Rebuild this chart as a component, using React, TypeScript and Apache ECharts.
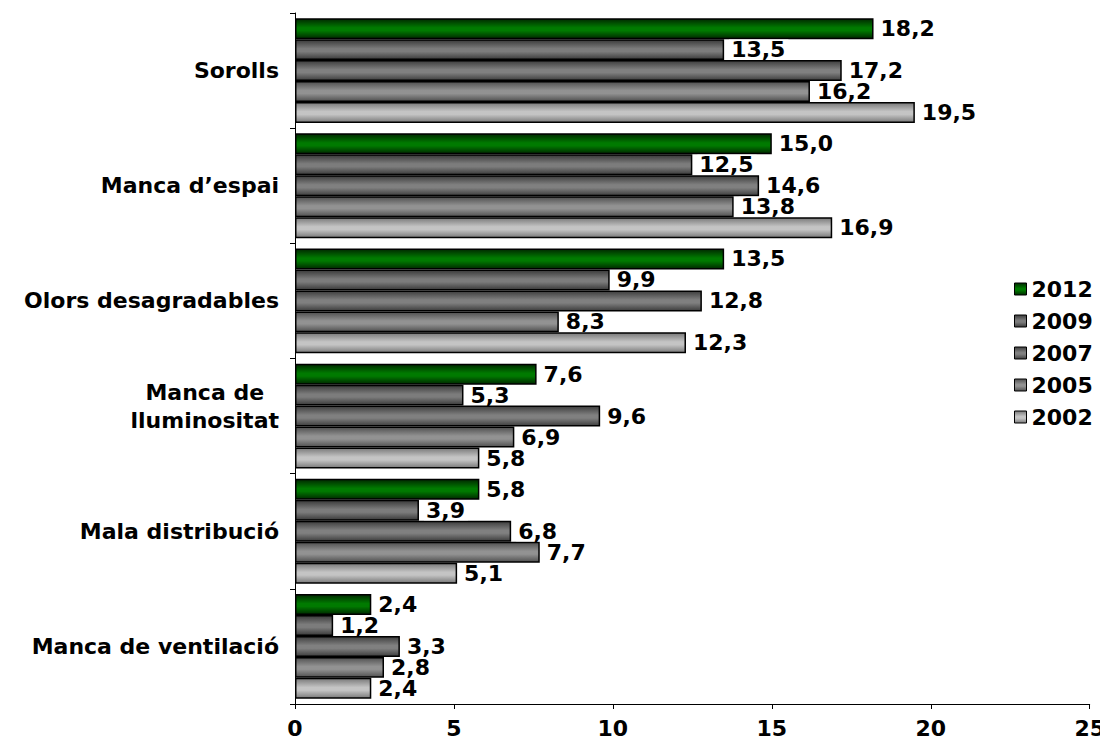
import React, { useEffect, useRef } from "react";
import * as echarts from "echarts";

const categories = [
  "Manca de ventilació",
  "Mala distribució",
  "Manca de\nlluminositat",
  "Olors desagradables",
  "Manca d’espai",
  "Sorolls",
];
const years = ["2012", "2009", "2007", "2005", "2002"];
const v2012 = [2.4, 5.8, 7.6, 13.5, 15.0, 18.2];
const v2009 = [1.2, 3.9, 5.3, 9.9, 12.5, 13.5];
const v2007 = [3.3, 6.8, 9.6, 12.8, 14.6, 17.2];
const v2005 = [2.8, 7.7, 6.9, 8.3, 13.8, 16.2];
const v2002 = [2.4, 5.1, 5.8, 12.3, 16.9, 19.5];
const xTicks = [0, 5, 10, 15, 20, 25];

const seriesValues = [v2012, v2009, v2007, v2005, v2002];
const centerColors = ["#007a00", "#7c7c7c", "#808080", "#929292", "#c4c4c4"];
const edgeColors = ["#002a00", "#3a3a3a", "#3e3e3e", "#505050", "#7a7a7a"];

const FONT = "DejaVu Sans";
const FS = 22;

export default function App() {
  const ref = useRef<HTMLDivElement>(null);
  useEffect(() => {
    if (!ref.current) return;
    const chart = echarts.init(ref.current, undefined, { renderer: "svg" });
    const grad = (i: number) =>
      new echarts.graphic.LinearGradient(0, 0, 0, 1, [
        { offset: 0, color: edgeColors[i] },
        { offset: 0.45, color: centerColors[i] },
        { offset: 0.6, color: centerColors[i] },
        { offset: 1, color: edgeColors[i] },
      ]);
    const series = years.map((y, i) => ({
      name: y,
      type: "bar",
      data: seriesValues[i],
      barGap: "0%",
      barCategoryGap: "9%",
      itemStyle: {
        color: grad(i),
        borderColor: "#000",
        borderWidth: 1.5,
      },
      label: {
        show: true,
        position: "right",
        distance: 5,
        color: "#000",
        fontFamily: FONT,
        fontWeight: "bold",
        fontSize: FS,
        lineHeight: 20,
        backgroundColor: "#fff",
        padding: [0, 3, 0, 2],
        formatter: (p: any) => Number(p.value).toFixed(1).replace(".", ","),
      },
    }));
    chart.setOption({
      animation: false,
      grid: { left: 295, right: 16, top: 13, bottom: 43, containLabel: false },
      legend: {
        orient: "vertical",
        left: 1009,
        top: 273,
        icon: "rect",
        itemWidth: 12,
        itemHeight: 12,
        itemGap: 10,
        data: years,
        textStyle: {
          fontFamily: FONT,
          fontWeight: "bold",
          fontSize: FS,
          color: "#000",
          lineHeight: 22,
        },
        itemStyle: { borderColor: "#000", borderWidth: 1 },
      },
      xAxis: {
        type: "value",
        min: 0,
        max: 25,
        interval: 5,
        splitLine: { show: false },
        axisLine: { show: true, lineStyle: { color: "#000", width: 1 } },
        axisTick: { show: true, inside: false, length: 5, lineStyle: { color: "#000" } },
        axisLabel: {
          margin: 13,
          color: "#000",
          fontFamily: FONT,
          fontWeight: "bold",
          fontSize: FS,
          formatter: (v: number) => (xTicks.includes(v) ? String(v) : ""),
        },
      },
      yAxis: {
        type: "category",
        data: categories,
        axisLine: { show: true, lineStyle: { color: "#000", width: 1 } },
        axisTick: { show: true, length: 5, lineStyle: { color: "#000" } },
        axisLabel: {
          margin: 16,
          color: "#000",
          fontFamily: FONT,
          fontWeight: "bold",
          fontSize: FS,
          lineHeight: 28,
          formatter: (v: string) => {
            const parts = v.split("\n");
            const body = parts.map((s) => "{c|" + s + "}").join("\n");
            return parts.length > 1 ? body + "\n{e|}" : body;
          },
          rich: {
            c: {
              align: "center",
              fontFamily: FONT,
              fontWeight: "bold",
              fontSize: FS,
              lineHeight: 28,
              color: "#000",
            },
            e: { lineHeight: 20, fontSize: 1 },
          },
        },
      },
      series,
    });
    return () => chart.dispose();
  }, []);
  return <div ref={ref} style={{ width: 1108, height: 747, margin: -8 }} />;
}
